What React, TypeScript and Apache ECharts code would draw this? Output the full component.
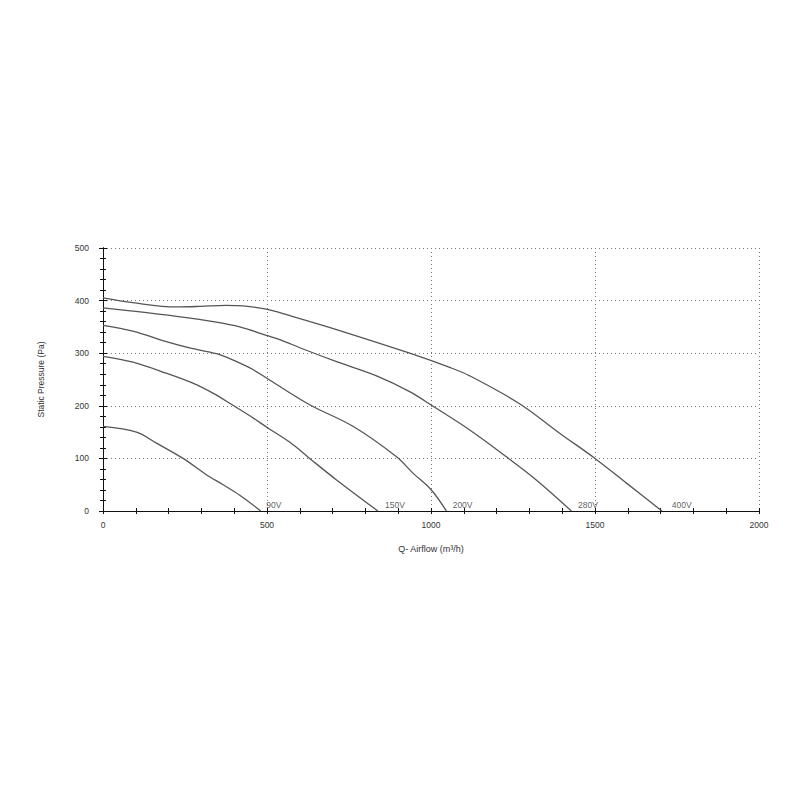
import React, { useEffect, useRef } from "react";
import * as echarts from "echarts";

const xTicks = [0, 500, 1000, 1500, 2000];
const yTicks = [0, 100, 200, 300, 400, 500];

const s90x = [0, 102, 163, 244, 315, 366, 417, 481];
const s90y = [161, 150, 129, 100, 69, 50, 30, 0];

const s150x = [0, 91, 193, 274, 335, 396, 450, 505, 569, 630, 712, 838];
const s150y = [294, 283, 262, 243, 224, 201, 180, 157, 131, 100, 59, 0];

const s200x = [0, 91, 193, 264, 346, 407, 457, 508, 630, 762, 895, 945, 1001, 1047];
const s200y = [353, 342, 322, 310, 299, 284, 269, 249, 202, 161, 103, 72, 40, 0];

const s280x = [0, 91, 224, 346, 417, 498, 539, 610, 712, 834, 935, 1004, 1118, 1230, 1321, 1428];
const s280y = [386, 380, 370, 359, 350, 334, 326, 308, 284, 257, 227, 200, 154, 103, 59, 0];

const s400x = [0, 91, 224, 295, 376, 427, 498, 539, 712, 935, 1057, 1118, 1270, 1392, 1500, 1596, 1704];
const s400y = [405, 396, 388, 389, 391, 390, 384, 377, 345, 300, 273, 257, 204, 148, 100, 53, 0];

const curveNames = ["90V", "150V", "200V", "280V", "400V"];
const labelX = [498, 860, 1066, 1448, 1734];

const zip = (xs: number[], ys: number[]) => xs.map((x, i) => [x, ys[i]]);

export default function App() {
  const ref = useRef<HTMLDivElement>(null);
  useEffect(() => {
    if (!ref.current) return;
    const chart = echarts.init(ref.current, undefined, { renderer: "svg" });
    const font = "Liberation Sans";
    const txt = "#333";
    const baseAxis = {
      type: "value" as const,
      min: 0,
      max: 2000,
      interval: 500,
    };
    const baseY = {
      type: "value" as const,
      min: 0,
      max: 500,
      interval: 100,
    };
    const line = { show: true, lineStyle: { color: "#111", width: 1 } };
    const curves = [
      zip(s90x, s90y),
      zip(s150x, s150y),
      zip(s200x, s200y),
      zip(s280x, s280y),
      zip(s400x, s400y),
    ];
    chart.setOption({
      animation: false,
      backgroundColor: "#fff",
      grid: { left: 103, right: 41, top: 248, bottom: 289, containLabel: false },
      xAxis: [
        {
          ...baseAxis,
          position: "bottom",
          axisLine: line,
          axisTick: { show: true, length: 3, lineStyle: { color: "#111" } },
          minorTick: { show: true, splitNumber: 5, length: 3, lineStyle: { color: "#111" } },
          splitLine: { show: true, lineStyle: { color: "#777", type: [1, 3], width: 1 } },
          axisLabel: {
            margin: 9,
            fontSize: 8.5,
            color: txt,
            fontFamily: font,
            customValues: xTicks,
            formatter: (v: number) => String(v),
          },
          name: "Q- Airflow (m³/h)",
          nameLocation: "middle",
          nameGap: 33,
          nameTextStyle: { fontSize: 9, color: txt, fontFamily: font },
        },
        {
          ...baseAxis,
          position: "bottom",
          axisLine: line,
          axisTick: { show: true, inside: true, length: 3, lineStyle: { color: "#111" } },
          minorTick: { show: true, splitNumber: 5, length: 3, lineStyle: { color: "#111" } },
          splitLine: { show: false },
          axisLabel: { show: false },
        },
        {
          ...baseAxis,
          position: "top",
          axisLine: line,
          axisTick: { show: true, inside: true, length: 3, lineStyle: { color: "#111" } },
          minorTick: { show: true, splitNumber: 5, length: 3, lineStyle: { color: "#111" } },
          splitLine: { show: false },
          axisLabel: { show: false },
        },
      ],
      yAxis: [
        {
          ...baseY,
          position: "left",
          axisLine: line,
          axisTick: { show: true, length: 4, lineStyle: { color: "#111" } },
          minorTick: { show: true, splitNumber: 5, length: 3, lineStyle: { color: "#111" } },
          splitLine: { show: true, lineStyle: { color: "#777", type: [1, 3], width: 1 } },
          axisLabel: {
            margin: 14,
            fontSize: 8.5,
            color: txt,
            fontFamily: font,
            customValues: yTicks,
            formatter: (v: number) => String(v),
          },
          name: "Static Pressure (Pa)",
          nameLocation: "middle",
          nameGap: 58,
          nameTextStyle: { fontSize: 8.5, color: txt, fontFamily: font },
        },
        {
          ...baseY,
          position: "left",
          axisLine: line,
          axisTick: { show: true, inside: true, length: 4, lineStyle: { color: "#111" } },
          minorTick: { show: true, splitNumber: 5, length: 3, lineStyle: { color: "#111" } },
          splitLine: { show: false },
          axisLabel: { show: false },
        },
        {
          ...baseY,
          position: "right",
          axisLine: line,
          axisTick: { show: true, inside: true, length: 3, lineStyle: { color: "#111" } },
          minorTick: { show: true, splitNumber: 5, length: 3, lineStyle: { color: "#111" } },
          splitLine: { show: false },
          axisLabel: { show: false },
        },
      ],
      series: [
        ...curves.map((d, i) => ({
          type: "line",
          name: curveNames[i],
          xAxisIndex: 0,
          yAxisIndex: 0,
          data: d,
          smooth: 0.35,
          showSymbol: false,
          symbol: "none",
          lineStyle: { color: "#555", width: 1.3 },
          z: 3,
        })),
        {
          type: "scatter",
          xAxisIndex: 0,
          yAxisIndex: 0,
          symbolSize: 0,
          data: curveNames.map((n, i) => [labelX[i], 0, n]),
          label: {
            show: true,
            position: "top",
            align: "left",
            distance: 2,
            formatter: (p: any) => p.value[2],
            fontSize: 8.5,
            color: txt,
            fontFamily: font,
          },
          z: 4,
        },
      ],
    });
    return () => chart.dispose();
  }, []);
  return (
    <div
      ref={ref}
      style={{ position: "fixed", left: 0, top: 0, width: 800, height: 800, background: "#fff" }}
    />
  );
}
